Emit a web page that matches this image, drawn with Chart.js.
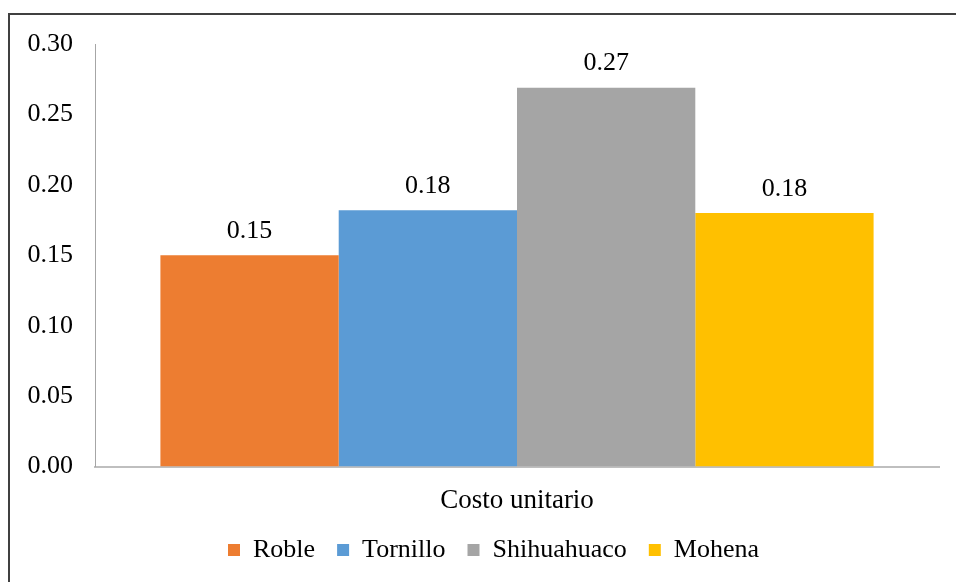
<!DOCTYPE html>
<html>
<head>
<meta charset="utf-8">
<script src="https://cdn.jsdelivr.net/npm/chart.js@4/dist/chart.umd.min.js"></script>
<style>
  html, body { margin: 0; padding: 0; background: #ffffff; }
  #wrap { position: relative; width: 956px; height: 582px; }
</style>
</head>
<body>
<div id="wrap"><canvas id="chart" width="956" height="582"></canvas></div>
<script>
// Unit cost per wood species
const categories = ['Costo unitario'];
const species = ['Roble', 'Tornillo', 'Shihuahuaco', 'Mohena'];
const unitCost = [0.150, 0.182, 0.269, 0.180];
const colors = ['#ED7D31', '#5B9BD5', '#A5A5A5', '#FFC000'];
const yTicks = [0.00, 0.05, 0.10, 0.15, 0.20, 0.25, 0.30];

const serif = 'Liberation Serif';

// Outer frame around the whole figure
const framePlugin = {
  id: 'frame',
  beforeDraw(chart) {
    const ctx = chart.ctx;
    ctx.save();
    ctx.fillStyle = '#ffffff';
    ctx.fillRect(0, 0, chart.width, chart.height);
    ctx.strokeStyle = '#404040';
    ctx.lineWidth = 2;
    ctx.strokeRect(9, 14, chart.width + 20, chart.height + 20);
    ctx.restore();
  }
};

// Nudge the legend row a little to the right of the canvas centre
const legendShift = {
  id: 'legendShift',
  afterLayout(chart) {
    const lg = chart.legend;
    if (lg) { lg.left += 19; lg.right += 19; }
  }
};

// Value printed above each bar
const valueLabels = {
  id: 'valueLabels',
  afterDatasetsDraw(chart) {
    const ctx = chart.ctx;
    ctx.save();
    ctx.font = '26px "' + serif + '"';
    ctx.fillStyle = '#000000';
    ctx.textAlign = 'center';
    ctx.textBaseline = 'bottom';
    chart.data.datasets.forEach((ds, i) => {
      const meta = chart.getDatasetMeta(i);
      meta.data.forEach((bar, j) => {
        ctx.fillText(ds.data[j].toFixed(2), bar.x, bar.y - 11);
      });
    });
    ctx.restore();
  }
};

const datasets = species.map((name, i) => ({
  label: name,
  data: [unitCost[i]],
  backgroundColor: colors[i],
  borderWidth: 0,
  categoryPercentage: 0.845,
  barPercentage: 1.0
}));

new Chart(document.getElementById('chart'), {
  type: 'bar',
  data: { labels: categories, datasets },
  options: {
    responsive: false,
    animation: false,
    layout: { padding: { left: 10, right: 17, top: 44, bottom: 9 } },
    plugins: {
      legend: {
        position: 'bottom',
        labels: {
          boxWidth: 12,
          boxHeight: 12,
          padding: 22,
          color: '#000000',
          font: { family: serif, size: 26 }
        }
      },
      tooltip: { enabled: false }
    },
    scales: {
      x: {
        afterFit(scale) { scale.height -= 20; },
        grid: { display: false, drawTicks: false },
        border: { display: true, color: '#BFBFBF', width: 2 },
        ticks: { color: '#000000', padding: 18, font: { family: serif, size: 27 } }
      },
      y: {
        min: 0,
        max: 0.3,
        afterBuildTicks(scale) { scale.ticks = yTicks.map(v => ({ value: v })); },
        afterFit(scale) { scale.width = 85; },
        grid: { display: false, drawTicks: false },
        border: { display: true, color: '#A6A6A6', width: 1 },
        ticks: {
          color: '#000000',
          padding: 22,
          font: { family: serif, size: 26 },
          callback: v => Number(v).toFixed(2)
        }
      }
    }
  },
  plugins: [framePlugin, legendShift, valueLabels]
});
</script>
</body>
</html>
